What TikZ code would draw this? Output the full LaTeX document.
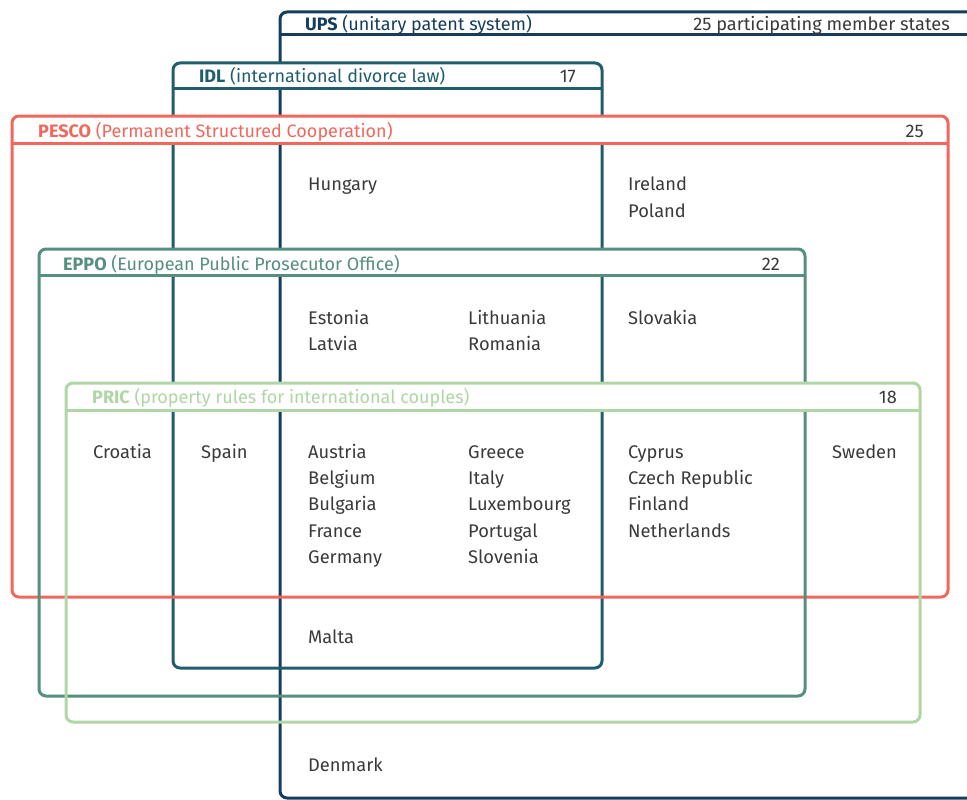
\documentclass[tikz,border=0pt]{standalone}
\usepackage{fontspec}
\setmainfont{Fira Sans}
\definecolor{upsc}{RGB}{22,62,92}
\definecolor{idlc}{RGB}{32,94,110}
\definecolor{pescoc}{RGB}{240,104,92}
\definecolor{eppoc}{RGB}{86,142,128}
\definecolor{pricc}{RGB}{176,214,166}
\definecolor{txt}{RGB}{58,58,58}
\newcommand\regionbox[7]{%
  % #1 colour, #2 left, #3 top, #4 right, #5 header bottom, #6 bottom, #7 name
  \fill[white, rounded corners=7pt] (#2,#3) rectangle (#4,#5);
  \draw[boxline, draw=#1] (#2,#3) rectangle (#4,#6);
  \draw[boxline, draw=#1] (#2,#5) -- (#4,#5);
  \coordinate (#7-nw) at (#2,#3);
}
\begin{document}
\begin{tikzpicture}[x=1pt,y=-1pt,
  boxline/.style={line width=3pt, rounded corners=7pt},
  country/.style={anchor=base west, inner sep=0pt, font=\fontsize{18.3}{20}\selectfont, text=txt},
  head/.style={anchor=base west, inner sep=0pt, font=\fontsize{18}{20}\selectfont},
  count/.style={anchor=base east, inner sep=0pt, font=\fontsize{18.2}{20}\selectfont, text=txt}]
\useasboundingbox (0,0) rectangle (967,800);
\begin{scope}
\clip (0,0) rectangle (967,800);
\regionbox{upsc}{280}{12}{1000}{35}{798}{ups}
\regionbox{idlc}{173}{63}{602}{89}{668}{idl}
\regionbox{pescoc}{12}{116}{948}{143}{597}{pesco}
\regionbox{eppoc}{39}{249}{805}{275}{696}{eppo}
\regionbox{pricc}{66}{383}{920}{410}{722}{pric}
\end{scope}
% headers
\node[head, text=upsc] (hups) at (305,31) {\textbf{UPS} (unitary patent system)};
\node[count] (nups) at (950,31) {25 participating member states};
\node[head, text=idlc] (hidl) at (199,83) {\textbf{IDL} (international divorce law)};
\node[count] (nidl) at (576,83) {17};
\node[head, text=pescoc] (hpesco) at (38,137) {\textbf{PESCO} (Permanent Structured Cooperation)};
\node[count] (npesco) at (924,137) {25};
\node[head, text=eppoc] (heppo) at (63,270) {\textbf{EPPO} (European Public Prosecutor Office)};
\node[count] (neppo) at (780,270) {22};
\node[head, text=pricc] (hpric) at (92,403) {\textbf{PRIC} (property rules for international couples)};
\node[count] (npric) at (897,403) {18};
% countries
\node[country] (hungary) at (308,190) {Hungary};
\node[country] (ireland) at (628,190) {Ireland};
\node[country] (poland) at (628,217) {Poland};
\node[country] (estonia) at (308,324) {Estonia};
\node[country] (latvia) at (308,350) {Latvia};
\node[country] (lithuania) at (468,324) {Lithuania};
\node[country] (romania) at (468,350) {Romania};
\node[country] (slovakia) at (628,324) {Slovakia};
\node[country] (croatia) at (93,458) {Croatia};
\node[country] (spain) at (201,458) {Spain};
\node[country] (sweden) at (832,458) {Sweden};
\node[country] (austria) at (308,458) {Austria};
\node[country] (belgium) at (308,484) {Belgium};
\node[country] (bulgaria) at (308,510) {Bulgaria};
\node[country] (france) at (308,537) {France};
\node[country] (germany) at (308,563) {Germany};
\node[country] (greece) at (468,458) {Greece};
\node[country] (italy) at (468,484) {Italy};
\node[country] (luxembourg) at (468,510) {Luxembourg};
\node[country] (portugal) at (468,537) {Portugal};
\node[country] (slovenia) at (468,563) {Slovenia};
\node[country] (cyprus) at (628,458) {Cyprus};
\node[country] (czech) at (628,484) {Czech Republic};
\node[country] (finland) at (628,510) {Finland};
\node[country] (netherlands) at (628,537) {Netherlands};
\node[country] (malta) at (308,643) {Malta};
\node[country] (denmark) at (308,771) {Denmark};
\end{tikzpicture}
\end{document}
